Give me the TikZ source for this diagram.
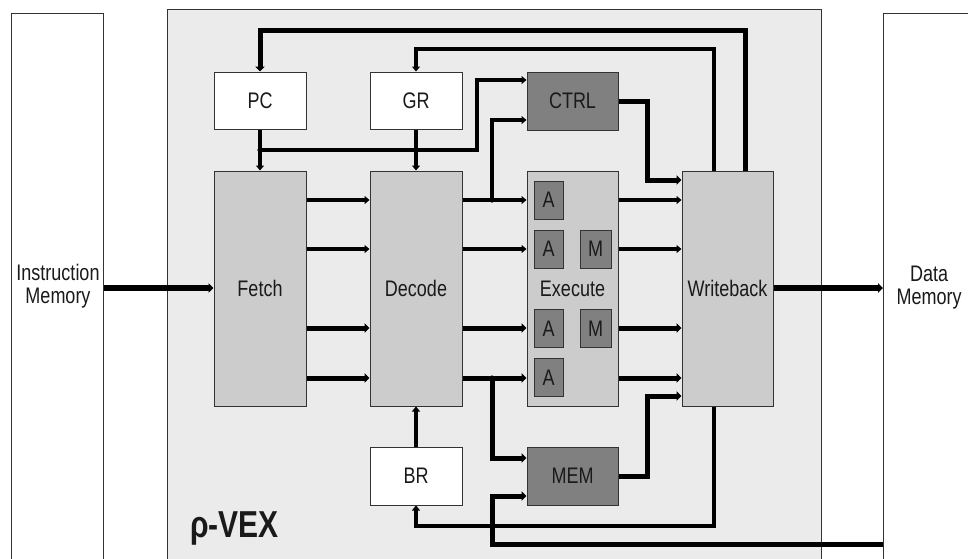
\documentclass[tikz,border=0pt]{standalone}
\usepackage{fontspec}
\setmainfont{Liberation Sans}
\usetikzlibrary{arrows.meta}
\definecolor{bgc}{HTML}{EBEBEB}
\definecolor{midc}{HTML}{CCCCCC}
\definecolor{darkc}{HTML}{808080}
\definecolor{edgec}{HTML}{333333}
\definecolor{txtc}{HTML}{1A1A1A}
\newcommand\vs[1]{\scalebox{1}[1.25]{#1}}
\begin{document}
\begin{tikzpicture}[x=1pt,y=-1pt,
  blk/.style={draw=edgec, line width=1pt, inner sep=0pt, font=\fontsize{18}{18.4}\selectfont, text=txtc},
  regbox/.style={blk, fill=white, minimum width=92pt, minimum height=57pt},
  stagebox/.style={blk, fill=midc, minimum width=92pt, minimum height=235pt},
  unitbox/.style={blk, fill=darkc, minimum width=91pt, minimum height=58pt},
  fubox/.style={blk, fill=darkc, minimum width=29pt, minimum height=38pt},
  membox/.style={draw=edgec, line width=1pt, fill=white, inner sep=0pt, anchor=north west, minimum height=600pt},
  txt/.style={inner sep=0pt, font=\fontsize{18}{18.4}\selectfont, text=txtc},
  bus/.style={line width=3.5pt, line join=miter, -{Triangle[length=5pt,width=8pt]}},
  wbus/.style={bus, line width=5pt, -{Triangle[length=5pt,width=9.5pt]}},
  dot/.style={fill=black}
]
\useasboundingbox (0,0) rectangle (968,558);
\clip (0,0) rectangle (968,558);

% containers
\node[membox, minimum width=92pt] (imem) at (11,13) {};
\node[membox, minimum width=130pt] (dmem) at (883,13) {};
\node[draw=edgec, line width=1pt, fill=bgc, inner sep=0pt, anchor=north west,
      minimum width=654pt, minimum height=600pt] (core) at (167,9) {};

\node[txt] (imtxt) at (58,287) {\vs{\begin{tabular}{@{}c@{}}Instruction\\Memory\end{tabular}}};
\node[txt] (dmtxt) at (929,288) {\vs{\begin{tabular}{@{}c@{}}Data\\Memory\end{tabular}}};

% blocks
\node[regbox] (pc) at (260,100.5) {\vs{PC}};
\node[regbox] (gr) at (416,100.5) {\vs{GR}};
\node[unitbox] (ctrl) at (572.5,101) {\vs{CTRL}};
\node[stagebox] (fetch) at (260,288.5) {\vs{Fetch}};
\node[stagebox] (decode) at (416,288.5) {\vs{Decode}};
\node[stagebox, minimum width=91pt] (exec) at (572.5,288.5) {};
\node[txt] (exectxt) at (572.5,289) {\vs{Execute}};
\node[stagebox, minimum width=91pt] (wb) at (727.5,288.5) {\vs{Writeback}};
\node[regbox, minimum height=58pt] (br) at (416,476) {\vs{BR}};
\node[unitbox] (mem) at (572.5,476) {\vs{MEM}};

\node[fubox] (a1) at (548.5,200) {\vs{A}};
\node[fubox] (a2) at (548.5,249) {\vs{A}};
\node[fubox] (a3) at (548.5,328.5) {\vs{A}};
\node[fubox] (a4) at (548.5,377.5) {\vs{A}};
\node[fubox, minimum width=31pt] (m1) at (595.5,249) {\vs{M}};
\node[fubox, minimum width=31pt] (m2) at (595.5,328.5) {\vs{M}};

\node[anchor=base west, inner sep=0pt, text=txtc, font=\bfseries\fontsize{30}{30}\selectfont] (title) at (190,537) {\vs{ρ-VEX}};

% row coordinates
\coordinate (r1) at (0,200);
\coordinate (r2) at (0,249);
\coordinate (r3) at (0,328);
\coordinate (r4) at (0,378);
\coordinate (jp) at (260,150);
\coordinate (j1) at (492,200);
\coordinate (j4) at (492,378);

% stage to stage
\draw[bus] (fetch.east |- r1) -- (decode.west |- r1);
\draw[bus] (fetch.east |- r2) -- (decode.west |- r2);
\draw[wbus] (fetch.east |- r3) -- (decode.west |- r3);
\draw[wbus] (fetch.east |- r4) -- (decode.west |- r4);
\draw[bus] (decode.east |- r1) -- (exec.west |- r1);
\draw[bus] (decode.east |- r2) -- (exec.west |- r2);
\draw[wbus] (decode.east |- r3) -- (exec.west |- r3);
\draw[wbus] (decode.east |- r4) -- (exec.west |- r4);
\draw[bus] (exec.east |- r1) -- (wb.west |- r1);
\draw[bus] (exec.east |- r2) -- (wb.west |- r2);
\draw[wbus] (exec.east |- r3) -- (wb.west |- r3);
\draw[wbus] (exec.east |- r4) -- (wb.west |- r4);

% memories
\draw[wbus, line width=5.5pt] (imem.east |- 0,288) -- (fetch.west |- 0,288);
\draw[wbus, line width=5.5pt] (wb.east |- 0,288) -- (dmem.west |- 0,288);

% feedback loops
\draw[wbus] (wb.north -| 745,0) -- (745,30) -| (pc.north);
\draw[bus, line width=4pt] (wb.north -| 714,0) -- (714,49) -| (gr.north);
\draw[bus, line width=4.5pt] (pc.south) -- (fetch.north);
\draw[bus, line width=4.5pt] (gr.south) -- (decode.north);
\draw[bus, line width=4pt] (jp) -- (477,150) -- (477,80) -- (ctrl.west |- 0,80);
\draw[bus] (j1) -- (492,120) -- (ctrl.west |- 0,120);
\draw[wbus] (ctrl.east) -- (647,101) -- (647,180) -- (wb.west |- 0,180);
\draw[wbus] (j4) -- (492,458) -- (mem.west |- 0,458);
\draw[wbus] (mem.east) -- (647,476) -- (647,396) -- (wb.west |- 0,396);
\draw[bus, line width=4pt] (wb.south -| 714,0) -- (714,526) -| (br.south);
\draw[bus, line width=4.5pt] (br.north) -- (decode.south);
\draw[wbus] (dmem.west |- 0,544) -- (492,544) -- (492,496) -- (mem.west |- 0,496);

\fill[dot] (jp) circle (2.6pt);
\fill[dot] (j1) circle (2.6pt);
\fill[dot] (j4) circle (2.6pt);
\end{tikzpicture}
\end{document}
